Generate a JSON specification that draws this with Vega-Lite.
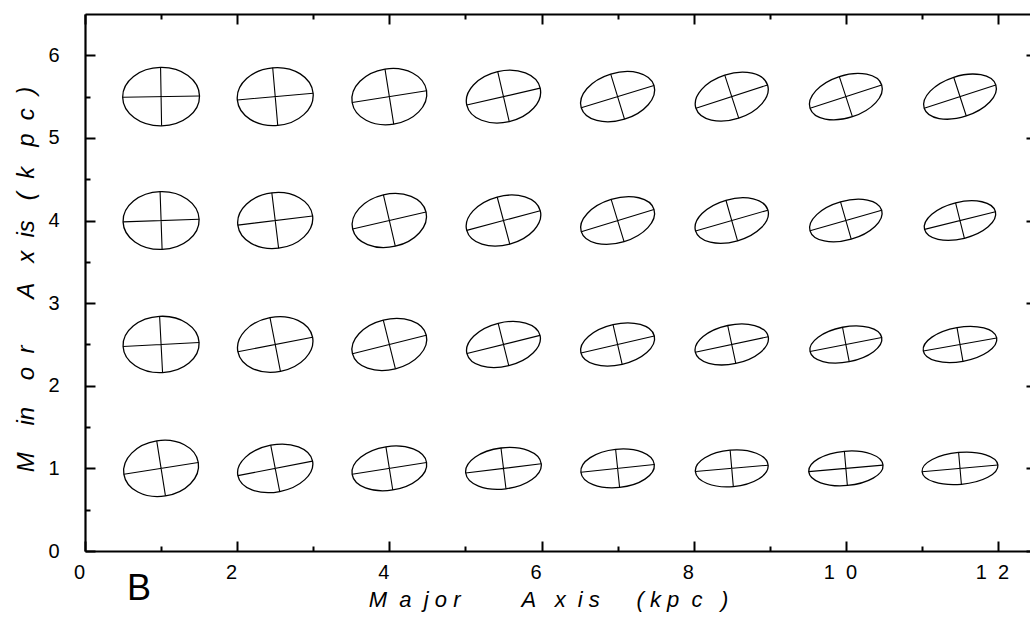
{
  "$schema": "https://vega.github.io/schema/vega-lite/v6.json",
  "autosize": "none",
  "width": 945,
  "height": 537,
  "padding": {"left": 85, "top": 14, "right": 0, "bottom": 75},
  "background": "white",
  "title": {
    "text": "B",
    "orient": "bottom",
    "anchor": "start",
    "frame": "group",
    "font": "Liberation Sans",
    "fontSize": 36,
    "fontWeight": "normal",
    "color": "black",
    "dx": 42,
    "dy": -42
  },
  "config": {
    "view": {"stroke": null},
    "axis": {
      "grid": false,
      "domainColor": "black",
      "domainWidth": 2.2,
      "tickColor": "black",
      "tickWidth": 2,
      "labelColor": "black",
      "labelFont": "Liberation Sans",
      "labelFontSize": 20,
      "titleColor": "black",
      "titleFont": "Liberation Sans",
      "titleFontStyle": "italic",
      "titleFontWeight": "normal"
    }
  },
  "data": {
    "values": [
      {"x": 1.0, "y": 5.5, "major": 1.01, "ratio": 0.76, "pa": 1},
      {"x": 2.5, "y": 5.5, "major": 1.00, "ratio": 0.76, "pa": 5},
      {"x": 4.0, "y": 5.5, "major": 0.99, "ratio": 0.74, "pa": 9},
      {"x": 5.5, "y": 5.5, "major": 0.99, "ratio": 0.68, "pa": 13},
      {"x": 7.0, "y": 5.5, "major": 1.00, "ratio": 0.62, "pa": 17},
      {"x": 8.5, "y": 5.5, "major": 0.99, "ratio": 0.60, "pa": 18},
      {"x": 10.0, "y": 5.5, "major": 0.99, "ratio": 0.56, "pa": 18},
      {"x": 11.5, "y": 5.5, "major": 0.99, "ratio": 0.54, "pa": 18},
      {"x": 1.0, "y": 4.0, "major": 1.00, "ratio": 0.76, "pa": 2},
      {"x": 2.5, "y": 4.0, "major": 0.99, "ratio": 0.74, "pa": 7},
      {"x": 4.0, "y": 4.0, "major": 0.99, "ratio": 0.70, "pa": 13},
      {"x": 5.5, "y": 4.0, "major": 1.00, "ratio": 0.64, "pa": 15},
      {"x": 7.0, "y": 4.0, "major": 1.00, "ratio": 0.58, "pa": 17},
      {"x": 8.5, "y": 4.0, "major": 0.99, "ratio": 0.56, "pa": 16},
      {"x": 10.0, "y": 4.0, "major": 0.98, "ratio": 0.52, "pa": 16},
      {"x": 11.5, "y": 4.0, "major": 0.96, "ratio": 0.50, "pa": 14},
      {"x": 1.0, "y": 2.5, "major": 1.00, "ratio": 0.74, "pa": 3},
      {"x": 2.5, "y": 2.5, "major": 1.00, "ratio": 0.72, "pa": 11},
      {"x": 4.0, "y": 2.5, "major": 1.00, "ratio": 0.66, "pa": 14},
      {"x": 5.5, "y": 2.5, "major": 0.99, "ratio": 0.58, "pa": 14},
      {"x": 7.0, "y": 2.5, "major": 0.99, "ratio": 0.54, "pa": 13},
      {"x": 8.5, "y": 2.5, "major": 0.98, "ratio": 0.52, "pa": 12},
      {"x": 10.0, "y": 2.5, "major": 0.96, "ratio": 0.48, "pa": 11},
      {"x": 11.5, "y": 2.5, "major": 0.98, "ratio": 0.46, "pa": 10},
      {"x": 1.0, "y": 1.0, "major": 0.99, "ratio": 0.74, "pa": 9},
      {"x": 2.5, "y": 1.0, "major": 1.00, "ratio": 0.62, "pa": 11},
      {"x": 4.0, "y": 1.0, "major": 0.99, "ratio": 0.58, "pa": 9},
      {"x": 5.5, "y": 1.0, "major": 1.00, "ratio": 0.54, "pa": 7},
      {"x": 7.0, "y": 1.0, "major": 0.97, "ratio": 0.52, "pa": 6},
      {"x": 8.5, "y": 1.0, "major": 0.96, "ratio": 0.50, "pa": 5},
      {"x": 10.0, "y": 1.0, "major": 0.98, "ratio": 0.46, "pa": 5},
      {"x": 11.5, "y": 1.0, "major": 1.00, "ratio": 0.42, "pa": 5}
    ]
  },
  "encoding": {
    "x": {"field": "x", "type": "quantitative", "scale": {"domain": [0, 12.42], "nice": false, "zero": false}},
    "y": {"field": "y", "type": "quantitative", "scale": {"domain": [0, 6.5], "nice": false, "zero": false}},
    "size": {"field": "major", "type": "quantitative", "legend": null,
      "scale": {"type": "pow", "exponent": 2, "domain": [0, 1], "range": [0, 5791]}},
    "angle": {"field": "pa", "type": "quantitative", "legend": null,
      "scale": {"domain": [0, 90], "range": [0, -90]}}
  },
  "layer": [
    {
      "mark": {"type": "point", "filled": false, "stroke": "black", "strokeWidth": 1.3, "opacity": 1, "clip": false},
      "encoding": {
        "x": {"field": "x", "type": "quantitative",
          "axis": {
            "orient": "bottom",
            "values": [0, 1, 2, 3, 4, 5, 6, 7, 8, 9, 10, 11, 12],
            "tickSize": {"condition": {"test": "datum.value % 2 === 0", "value": -10}, "value": -5},
            "labelExpr": "datum.value % 2 !== 0 ? '' : datum.value == 10 ? '1\u00a0\u00a00' : datum.value == 12 ? '1\u00a0\u00a02' : datum.label",
            "labelPadding": 21.5,
            "labelOffset": -6,
            "labelFlush": false,
            "labelOverlap": false,
            "title": "M\u00a0\u00a0a\u00a0\u00a0j\u00a0o\u00a0r\u00a0\u00a0\u00a0\u00a0\u00a0\u00a0\u00a0\u00a0\u00a0\u00a0A\u00a0\u00a0\u00a0x\u00a0\u00a0i\u00a0s\u00a0\u00a0\u00a0\u00a0\u00a0\u00a0(\u00a0k\u00a0p\u00a0\u00a0c\u00a0\u00a0\u00a0)",
            "titleFontSize": 22,
            "titleX": 463,
            "titleY": 55,
            "titleAlign": "center",
            "titleBaseline": "alphabetic"
          }
        },
        "y": {"field": "y", "type": "quantitative",
          "axis": {
            "orient": "left",
            "values": [0, 0.5, 1, 1.5, 2, 2.5, 3, 3.5, 4, 4.5, 5, 5.5, 6],
            "tickSize": {"condition": {"test": "datum.value % 1 === 0", "value": -10}, "value": -5},
            "labelExpr": "datum.value % 1 === 0 ? format(datum.value, 'd') : ''",
            "labelPadding": 36,
            "labelFlush": false,
            "labelOverlap": false,
            "title": "M\u00a0\u00a0\u00a0\u00a0in\u00a0\u00a0\u00a0\u00a0o\u00a0\u00a0r\u00a0\u00a0\u00a0\u00a0\u00a0\u00a0\u00a0A\u00a0\u00a0\u00a0x\u00a0\u00a0is\u00a0\u00a0\u00a0(\u00a0\u00a0k\u00a0\u00a0\u00a0p\u00a0\u00a0c\u00a0\u00a0)",
            "titleFontSize": 24,
            "titleX": -52,
            "titleY": 265,
            "titleAngle": -90,
            "titleAlign": "center",
            "titleBaseline": "alphabetic"
          }
        },
        "shape": {"field": "ratio", "type": "nominal", "legend": null,
          "scale": {
            "domain": [0.42, 0.46, 0.48, 0.5, 0.52, 0.54, 0.56, 0.58, 0.6, 0.62, 0.64, 0.66, 0.68, 0.7, 0.72, 0.74, 0.76],
            "range": [
              "M-1,0A1,0.42,0,1,1,1,0A1,0.42,0,1,1,-1,0Z",
              "M-1,0A1,0.46,0,1,1,1,0A1,0.46,0,1,1,-1,0Z",
              "M-1,0A1,0.48,0,1,1,1,0A1,0.48,0,1,1,-1,0Z",
              "M-1,0A1,0.5,0,1,1,1,0A1,0.5,0,1,1,-1,0Z",
              "M-1,0A1,0.52,0,1,1,1,0A1,0.52,0,1,1,-1,0Z",
              "M-1,0A1,0.54,0,1,1,1,0A1,0.54,0,1,1,-1,0Z",
              "M-1,0A1,0.56,0,1,1,1,0A1,0.56,0,1,1,-1,0Z",
              "M-1,0A1,0.58,0,1,1,1,0A1,0.58,0,1,1,-1,0Z",
              "M-1,0A1,0.6,0,1,1,1,0A1,0.6,0,1,1,-1,0Z",
              "M-1,0A1,0.62,0,1,1,1,0A1,0.62,0,1,1,-1,0Z",
              "M-1,0A1,0.64,0,1,1,1,0A1,0.64,0,1,1,-1,0Z",
              "M-1,0A1,0.66,0,1,1,1,0A1,0.66,0,1,1,-1,0Z",
              "M-1,0A1,0.68,0,1,1,1,0A1,0.68,0,1,1,-1,0Z",
              "M-1,0A1,0.7,0,1,1,1,0A1,0.7,0,1,1,-1,0Z",
              "M-1,0A1,0.72,0,1,1,1,0A1,0.72,0,1,1,-1,0Z",
              "M-1,0A1,0.74,0,1,1,1,0A1,0.74,0,1,1,-1,0Z",
              "M-1,0A1,0.76,0,1,1,1,0A1,0.76,0,1,1,-1,0Z"
            ]
          }
        }
      }
    },
    {
      "mark": {"type": "point", "filled": false, "stroke": "black", "strokeWidth": 1.1, "opacity": 1, "clip": false},
      "encoding": {
        "x": {"field": "x", "type": "quantitative",
          "axis": {
            "orient": "top",
            "values": [0, 1, 2, 3, 4, 5, 6, 7, 8, 9, 10, 11, 12],
            "tickSize": {"condition": {"test": "datum.value % 2 === 0", "value": -10}, "value": -5},
            "labels": false,
            "title": null
          }
        },
        "y": {"field": "y", "type": "quantitative",
          "axis": {
            "orient": "right",
            "offset": 6,
            "values": [0, 0.5, 1, 1.5, 2, 2.5, 3, 3.5, 4, 4.5, 5, 5.5, 6],
            "tickSize": {"condition": {"test": "datum.value % 1 === 0", "value": -10}, "value": -5},
            "labels": false,
            "title": null
          }
        },
        "shape": {"field": "ratio", "type": "nominal", "legend": null,
          "scale": {
            "domain": [0.42, 0.46, 0.48, 0.5, 0.52, 0.54, 0.56, 0.58, 0.6, 0.62, 0.64, 0.66, 0.68, 0.7, 0.72, 0.74, 0.76],
            "range": [
              "M-1,0L1,0M0,-0.42L0,0.42",
              "M-1,0L1,0M0,-0.46L0,0.46",
              "M-1,0L1,0M0,-0.48L0,0.48",
              "M-1,0L1,0M0,-0.5L0,0.5",
              "M-1,0L1,0M0,-0.52L0,0.52",
              "M-1,0L1,0M0,-0.54L0,0.54",
              "M-1,0L1,0M0,-0.56L0,0.56",
              "M-1,0L1,0M0,-0.58L0,0.58",
              "M-1,0L1,0M0,-0.6L0,0.6",
              "M-1,0L1,0M0,-0.62L0,0.62",
              "M-1,0L1,0M0,-0.64L0,0.64",
              "M-1,0L1,0M0,-0.66L0,0.66",
              "M-1,0L1,0M0,-0.68L0,0.68",
              "M-1,0L1,0M0,-0.7L0,0.7",
              "M-1,0L1,0M0,-0.72L0,0.72",
              "M-1,0L1,0M0,-0.74L0,0.74",
              "M-1,0L1,0M0,-0.76L0,0.76"
            ]
          }
        }
      }
    }
  ],
  "resolve": {
    "axis": {"x": "independent", "y": "independent"},
    "scale": {"shape": "independent"}
  }
}
